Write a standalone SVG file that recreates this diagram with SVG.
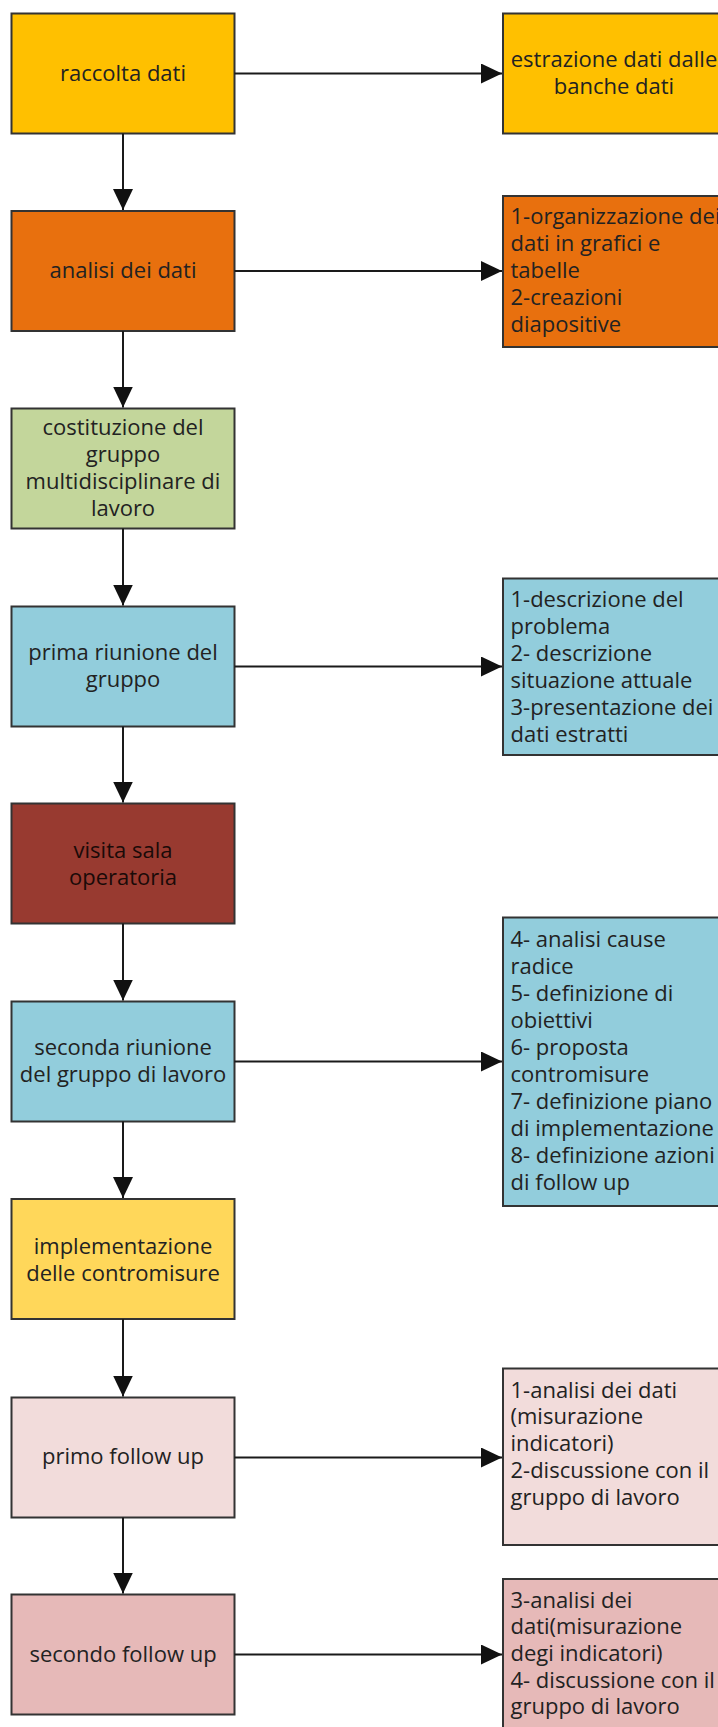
<svg xmlns="http://www.w3.org/2000/svg" width="718" height="1727" viewBox="0 0 718 1727">
<defs>
<marker id="ah" markerUnits="userSpaceOnUse" markerWidth="21" markerHeight="20" refX="21" refY="10" orient="auto">
<path d="M0,0 L21,10 L0,20 z" fill="#111"/>
</marker>
<style>
rect{stroke:#333;stroke-width:2}
text{font-family:"Open Sans","Noto Sans","DejaVu Sans",sans-serif;font-size:22px;fill:#222}
.c{text-anchor:middle}
.conn line{stroke:#1a1a1a;stroke-width:2;marker-end:url(#ah)}
</style>
</defs>
<rect x="0" y="0" width="718" height="1727" fill="#fff" style="stroke:none"/>

<g id="n1"><rect x="11.5" y="13.5" width="223" height="120" fill="#FFC000"/><text class="c" x="123" y="81">raccolta dati</text></g>
<g id="n2"><rect x="11.5" y="211" width="223" height="120" fill="#E8700E"/><text class="c" x="123" y="277.5">analisi dei dati</text></g>
<g id="n3"><rect x="11.5" y="408.5" width="223" height="120" fill="#C3D69B"/><text class="c" x="123" y="435">costituzione del</text><text class="c" x="123" y="462">gruppo</text><text class="c" x="123" y="489">multidisciplinare di</text><text class="c" x="123" y="516">lavoro</text></g>
<g id="n4"><rect x="11.5" y="606.5" width="223" height="120" fill="#92CDDC"/><text class="c" x="123" y="659.5">prima riunione del</text><text class="c" x="123" y="686.5">gruppo</text></g>
<g id="n5"><rect x="11.5" y="803.5" width="223" height="120" fill="#983A30"/><text class="c" x="123" y="858" style="fill:#1a0a08">visita sala</text><text class="c" x="123" y="885" style="fill:#1a0a08">operatoria</text></g>
<g id="n6"><rect x="11.5" y="1001.5" width="223" height="120" fill="#92CDDC"/><text class="c" x="123" y="1054.5">seconda riunione</text><text class="c" x="123" y="1081.5">del gruppo di lavoro</text></g>
<g id="n7"><rect x="11.5" y="1199" width="223" height="120" fill="#FFD75A"/><text class="c" x="123" y="1253.5">implementazione</text><text class="c" x="123" y="1280.5">delle contromisure</text></g>
<g id="n8"><rect x="11.5" y="1397.5" width="223" height="120" fill="#F2DCDB"/><text class="c" x="123" y="1464">primo follow up</text></g>
<g id="n9"><rect x="11.5" y="1594.5" width="223" height="120" fill="#E6B9B8"/><text class="c" x="123" y="1661.5">secondo follow up</text></g>

<g id="r1"><rect x="503" y="13.5" width="230" height="120" fill="#FFC000"/><text class="c" x="614" y="67">estrazione dati dalle</text><text class="c" x="614" y="94">banche dati</text></g>
<g id="r2"><rect x="503" y="196" width="230" height="151" fill="#E8700E"/>
<text x="510.5" y="223.5">1-organizzazione dei</text><text x="510.5" y="250.5">dati in grafici e</text><text x="510.5" y="277.5">tabelle</text><text x="510.5" y="304.5">2-creazioni</text><text x="510.5" y="331.5">diapositive</text></g>
<g id="r3"><rect x="503" y="578.5" width="230" height="176.5" fill="#92CDDC"/>
<text x="510.5" y="607">1-descrizione del</text><text x="510.5" y="634">problema</text><text x="510.5" y="661">2- descrizione</text><text x="510.5" y="688">situazione attuale</text><text x="510.5" y="715">3-presentazione dei</text><text x="510.5" y="742">dati estratti</text></g>
<g id="r4"><rect x="503" y="917.5" width="230" height="288.5" fill="#92CDDC"/>
<text x="510.5" y="947">4- analisi cause</text><text x="510.5" y="974">radice</text><text x="510.5" y="1001">5- definizione di</text><text x="510.5" y="1028">obiettivi</text><text x="510.5" y="1055">6- proposta</text><text x="510.5" y="1082">contromisure</text><text x="510.5" y="1109">7- definizione piano</text><text x="510.5" y="1136">di implementazione</text><text x="510.5" y="1163">8- definizione azioni</text><text x="510.5" y="1190">di follow up</text></g>
<g id="r5"><rect x="503" y="1368.5" width="230" height="176.5" fill="#F2DCDB"/>
<text x="510.5" y="1397.7">1-analisi dei dati</text><text x="510.5" y="1424.4">(misurazione</text><text x="510.5" y="1451.1">indicatori)</text><text x="510.5" y="1477.8">2-discussione con il</text><text x="510.5" y="1504.5">gruppo di lavoro</text></g>
<g id="r6"><rect x="503" y="1579" width="230" height="152" fill="#E6B9B8"/>
<text x="510.5" y="1607.7">3-analisi dei</text><text x="510.5" y="1634.3">dati(misurazione</text><text x="510.5" y="1661">degi indicatori)</text><text x="510.5" y="1687.7">4- discussione con il</text><text x="510.5" y="1714.3">gruppo di lavoro</text></g>

<g id="connectors" class="conn">
<line x1="123" y1="133.5" x2="123" y2="210"/>
<line x1="123" y1="331" x2="123" y2="407.5"/>
<line x1="123" y1="528.5" x2="123" y2="605.5"/>
<line x1="123" y1="726.5" x2="123" y2="802.5"/>
<line x1="123" y1="923.5" x2="123" y2="1000.5"/>
<line x1="123" y1="1121.5" x2="123" y2="1198"/>
<line x1="123" y1="1319" x2="123" y2="1396.5"/>
<line x1="123" y1="1517.5" x2="123" y2="1593.5"/>
<line x1="234.5" y1="73.5" x2="502" y2="73.5"/>
<line x1="234.5" y1="271" x2="502" y2="271"/>
<line x1="234.5" y1="666.5" x2="502" y2="666.5"/>
<line x1="234.5" y1="1061.5" x2="502" y2="1061.5"/>
<line x1="234.5" y1="1457.5" x2="502" y2="1457.5"/>
<line x1="234.5" y1="1654.5" x2="502" y2="1654.5"/>
</g>
</svg>
